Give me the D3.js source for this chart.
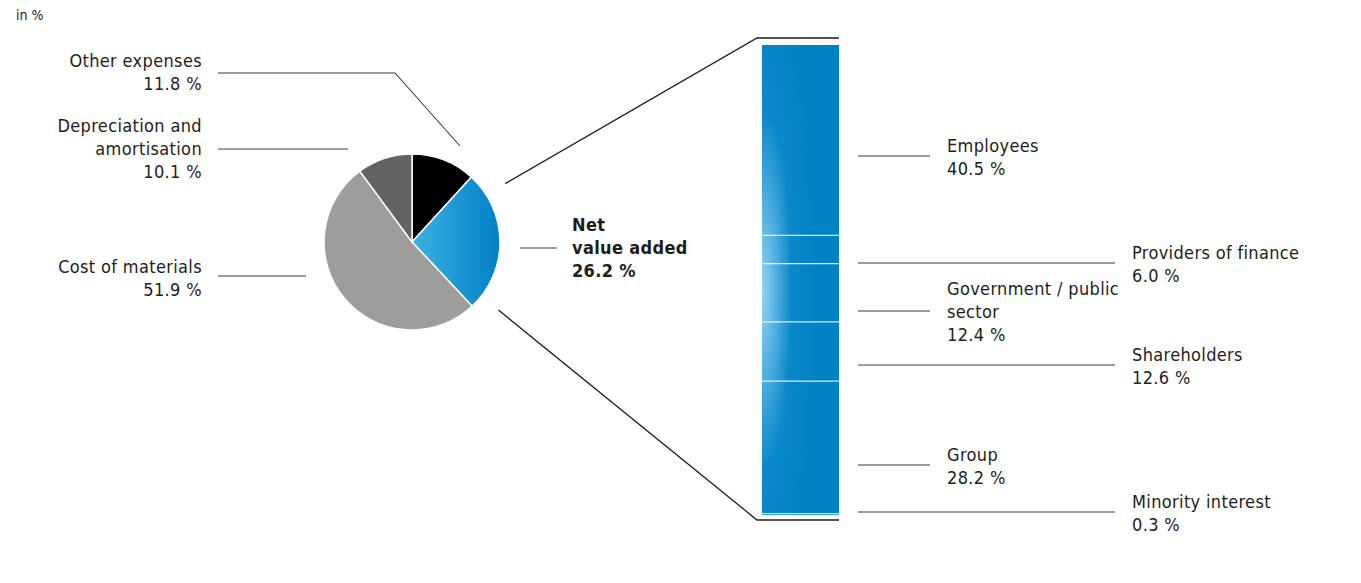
<!DOCTYPE html>
<html>
<head>
<meta charset="utf-8">
<script src="https://cdn.jsdelivr.net/npm/d3@7"></script>
<style>
  body { margin: 0; background: #fff; }
  text { font-family: "DejaVu Sans Condensed", "DejaVu Sans", sans-serif; font-size: 18px; letter-spacing: 0.35px; fill: #1d1d1b; }
</style>
</head>
<body>
<svg width="1361" height="583"></svg>
<script>
// pie: cost structure
const pieCategories = ["Other expenses", "Net value added", "Cost of materials", "Depreciation and amortisation"];
const pieValues = [11.8, 26.2, 51.9, 10.1];

// bar: distribution of net value added
const barCategories = ["Employees", "Providers of finance", "Government / public sector", "Shareholders", "Group", "Minority interest"];
const barValues = [40.5, 6.0, 12.4, 12.6, 28.2, 0.3];

const svg = d3.select("svg");
const defs = svg.append("defs");

const blueGrad = defs.append("linearGradient").attr("id", "pieBlue")
  .attr("x1", "0%").attr("x2", "100%").attr("y1", "0%").attr("y2", "0%");
blueGrad.append("stop").attr("offset", "0%").attr("stop-color", "#3db1e3");
blueGrad.append("stop").attr("offset", "100%").attr("stop-color", "#0080c6");

const barGrad = defs.append("radialGradient").attr("id", "barBlue")
  .attr("cx", 0).attr("cy", 0.52).attr("r", 0.7).attr("fx", 0).attr("fy", 0.52);
barGrad.append("stop").attr("offset", "0%").attr("stop-color", "#93d4f2");
barGrad.append("stop").attr("offset", "55%").attr("stop-color", "#0a88cb");
barGrad.append("stop").attr("offset", "100%").attr("stop-color", "#0082c6");

svg.append("text").attr("x", 16).attr("y", 20).style("font-size", "14px").style("letter-spacing", "0").text("in %");

// ---- pie
const cx = 412, cy = 242, r = 88;
const pieColors = ["#000000", "url(#pieBlue)", "#9d9d9c", "#646363"];
const arcs = d3.pie().sort(null).value(d => d)(pieValues);
const arc = d3.arc().innerRadius(0).outerRadius(r);

const pieG = svg.append("g").attr("transform", `translate(${cx},${cy})`);
pieG.selectAll("path")
  .data(arcs)
  .join("path")
  .attr("d", arc)
  .attr("fill", (d, i) => pieColors[i])
  .attr("stroke", "#fff")
  .attr("stroke-width", 1.5);

// ---- bar
const barX = 762, barW = 77, barTop = 45, barBottom = 515;
const y = d3.scaleLinear().domain([0, d3.sum(barValues)]).range([barTop, barBottom]);
const stacked = [];
barValues.reduce((acc, v, i) => { stacked.push({name: barCategories[i], v0: acc, v1: acc + v}); return acc + v; }, 0);

svg.append("rect")
  .attr("x", barX).attr("y", y(0)).attr("width", barW).attr("height", y(d3.sum(barValues)) - y(0))
  .attr("fill", "url(#barBlue)");
svg.append("g").selectAll("line")
  .data(stacked.slice(1))
  .join("line")
  .attr("x1", barX).attr("x2", barX + barW)
  .attr("y1", d => y(d.v0)).attr("y2", d => y(d.v0))
  .attr("stroke", "#fff").attr("stroke-opacity", 0.85).attr("stroke-width", 1.3);

// ---- connectors between blue slice and bar
const blue = arcs[1];
const outer = d3.arc().innerRadius(r + 22).outerRadius(r + 22);
const pStart = outer.centroid({startAngle: blue.startAngle + 0.27, endAngle: blue.startAngle + 0.27});
const pEnd = outer.centroid({startAngle: blue.endAngle - 0.15, endAngle: blue.endAngle - 0.15});
const line = d3.line();
svg.append("path")
  .attr("d", line([[cx + pStart[0], cy + pStart[1]], [757, barTop - 7], [barX + barW, barTop - 7]]))
  .attr("fill", "none").attr("stroke", "#1d1d1b").attr("stroke-width", 1.3);
svg.append("path")
  .attr("d", line([[cx + pEnd[0], cy + pEnd[1]], [757, barBottom + 5], [barX + barW, barBottom + 5]]))
  .attr("fill", "none").attr("stroke", "#1d1d1b").attr("stroke-width", 1.3);

// ---- label helpers
const leader = (pts) => svg.append("path").attr("d", line(pts))
  .attr("fill", "none").attr("stroke", "#3c3c3b").attr("stroke-width", 1.1);
const label = (x, y0, lines, anchor, bold) => {
  const t = svg.append("text").attr("x", x).attr("y", y0).attr("text-anchor", anchor)
    .style("font-weight", bold ? "bold" : "normal");
  lines.forEach((s, i) => t.append("tspan").attr("x", x).attr("dy", i ? 23 : 0).text(s));
};
const pct = v => d3.format(".1f")(v) + " %";

// pie labels
leader([[218, 73], [395, 73], [460, 146]]);
label(202, 67, ["Other expenses", pct(pieValues[0])], "end");
leader([[218, 149], [348, 149]]);
label(202, 132, ["Depreciation and", "amortisation", pct(pieValues[3])], "end");
leader([[218, 276], [306, 276]]);
label(202, 273, ["Cost of materials", pct(pieValues[2])], "end");
leader([[520, 248], [557, 248]]);
label(572, 231, ["Net", "value added", pct(pieValues[1])], "start", true);

// bar labels (rows of the callouts)
const rowY = [156, 263, 311, 365, 465, 512];
const labelLines = [["Employees"], ["Providers of finance"], ["Government / public", "sector"], ["Shareholders"], ["Group"], ["Minority interest"]];
barValues.forEach((v, i) => {
  const far = i % 2 === 1;
  leader([[858, rowY[i]], [far ? 1115 : 930, rowY[i]]]);
  const lines = labelLines[i].concat([pct(v)]);
  const first = i === 2 ? rowY[i] - 16 : rowY[i] - 4;
  label(far ? 1132 : 947, first, lines, "start");
});
</script>
</body>
</html>
